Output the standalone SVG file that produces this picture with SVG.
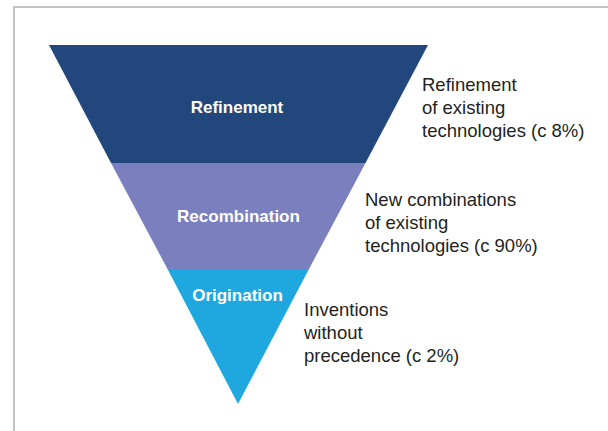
<svg xmlns="http://www.w3.org/2000/svg" width="608" height="431" viewBox="0 0 608 431">
<style>
.frame{fill:none;stroke:#c3c3c7;stroke-width:2}
.lab{font-family:"Liberation Sans",Arial,sans-serif;font-weight:bold;font-size:17px;fill:#ffffff;text-anchor:middle}
.desc{font-family:"Liberation Sans",Arial,sans-serif;font-size:18.5px;fill:#231f20}
</style>
<rect width="608" height="431" fill="#ffffff"/>
<path class="frame" d="M14,431 V7 H608"/>
<g id="refinement">
<polygon points="49,45 428,45 365.5,163 111,163" fill="#21477c"/>
<text class="lab" x="237" y="113">Refinement</text>
<text class="desc" x="422" y="91">Refinement</text>
<text class="desc" x="422" y="114">of existing</text>
<text class="desc" x="422" y="137">technologies (c 8%)</text>
</g>
<g id="recombination">
<polygon points="111,163 365.5,163 309,269 167.5,269" fill="#7a7fbd"/>
<text class="lab" x="238.5" y="222">Recombination</text>
<text class="desc" x="365" y="206">New combinations</text>
<text class="desc" x="365" y="229">of existing</text>
<text class="desc" x="365" y="252">technologies (c 90%)</text>
</g>
<g id="origination">
<polygon points="167.5,269 309,269 238,404" fill="#1fa8df"/>
<text class="lab" x="237.5" y="301">Origination</text>
<text class="desc" x="304" y="316">Inventions</text>
<text class="desc" x="304" y="339">without</text>
<text class="desc" x="304" y="362">precedence (c 2%)</text>
</g>
<g id="connectors"></g>
</svg>
